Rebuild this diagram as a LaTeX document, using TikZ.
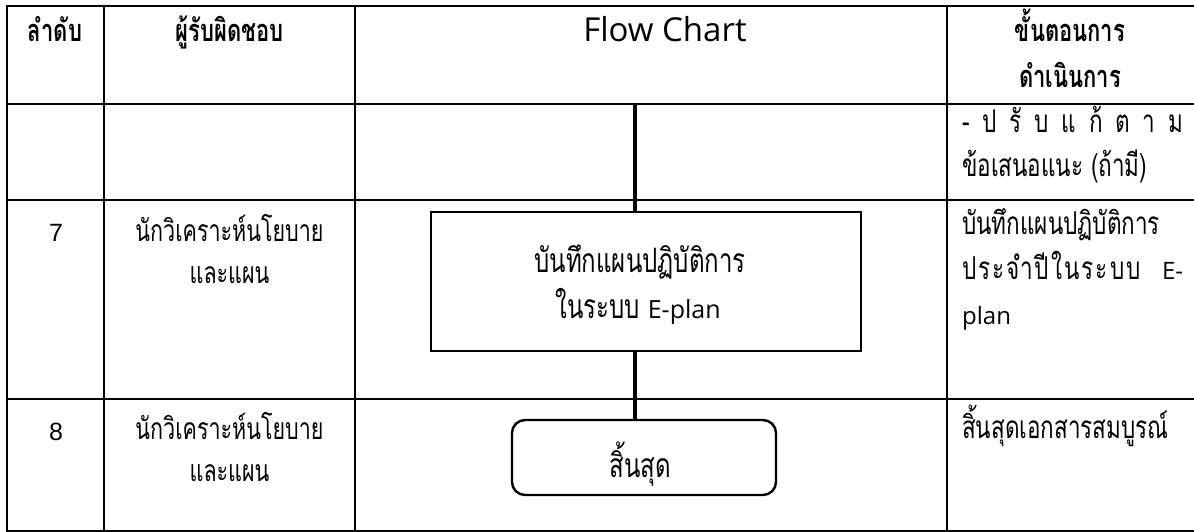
\documentclass[tikz,border=0pt]{standalone}
\usepackage{graphicx}
\usepackage{fontspec}
\newfontfamily\thai[Script=Thai]{Loma}
\newfontfamily\lat{Open Sans}
\newfontfamily\num{Liberation Sans}
\newcommand{\thstretch}[1]{\scalebox{1}[1.4]{#1}}
\newcommand{\fl}{\hskip 0pt plus 1fil\relax}
\newcommand{\sfl}{\hskip 0pt plus 0.15fil\relax}
\begin{document}
\begin{tikzpicture}[x=1pt,y=-1pt,
  grid/.style={line width=2.2pt},
  flow/.style={line width=4.2pt},
  boxline/.style={draw, line width=2.4pt, inner sep=0pt},
  base/.style={inner sep=0pt, anchor=base},
  hd/.style={base, font=\thai\bfseries\fontsize{22}{26}\selectfont},
  nametxt/.style={base, font=\thai\fontsize{21.5}{26}\selectfont},
  desctxt/.style={base, anchor=base west, font=\thai\fontsize{22.5}{27}\selectfont},
  boxtxt/.style={base, font=\thai\fontsize{24}{29}\selectfont},
  lathd/.style={base, font=\lat\fontsize{33}{38}\selectfont},
  numtxt/.style={base, font=\num\fontsize{25}{30}\selectfont}]
\useasboundingbox (0,0) rectangle (1194,532);
% table grid
\draw[grid] (1200,6) -- (7,6) -- (7,531) -- (1200,531);
\draw[grid] (7,104) -- (1200,104);
\draw[grid] (7,200) -- (1200,200);
\draw[grid] (7,399) -- (1200,399);
\draw[grid] (104,6) -- (104,531);
\draw[grid] (355,6) -- (355,531);
\draw[grid] (947,6) -- (947,531);
% headers
\node[hd] (h1) at (55,42) {\thstretch{ลำดับ}};
\node[hd] (h2) at (229.5,42) {\thstretch{ผู้รับผิดชอบ}};
\node[lathd] (h3) at (665,42) {Flow Chart};
\node[hd] (h4a) at (1070,42) {\thstretch{ขั้นตอนการ}};
\node[hd] (h4b) at (1070,88) {\thstretch{ดำเนินการ}};
% row 1 (continuation)
\node[desctxt] (r1a) at (962,133) {\thstretch{\makebox[221pt][s]{-\fl ป\fl รั\fl บ\fl แ\fl ก้\fl ต\fl า\fl ม}}};
\node[desctxt] (r1b) at (962,176) {\thstretch{ข้อเสนอแนะ (ถ้ามี)}};
% row 7
\node[numtxt] (n7) at (56,241) {7};
\node[nametxt] (p7a) at (229.5,241) {\thstretch{นักวิเคราะห์นโยบาย}};
\node[nametxt] (p7b) at (229.5,283) {\thstretch{และแผน}};
\node[desctxt] (d7a) at (962,234) {\thstretch{บันทึกแผนปฏิบัติการ}};
\node[desctxt] (d7b) at (962,279) {\makebox[221pt][s]{\thstretch{ป}\sfl\thstretch{ร}\sfl\thstretch{ะ}\sfl\thstretch{จำ}\sfl\thstretch{ปี}\sfl\thstretch{ใ}\sfl\thstretch{น}\sfl\thstretch{ร}\sfl\thstretch{ะ}\sfl\thstretch{บ}\sfl\thstretch{บ}\ \fl{\lat\fontsize{24}{29}\selectfont E-}}};
\node[desctxt] (d7c) at (962,324) {\lat\fontsize{24}{29}\selectfont plan};
% row 8
\node[numtxt] (n8) at (56,440) {8};
\node[nametxt] (p8a) at (229.5,439) {\thstretch{นักวิเคราะห์นโยบาย}};
\node[nametxt] (p8b) at (229.5,481) {\thstretch{และแผน}};
\node[desctxt] (d8a) at (962,438) {\thstretch{สิ้นสุดเอกสารสมบูรณ์}};
% flow chart
\node[boxline, minimum width=430pt, minimum height=139pt] (box1) at (646,281.5) {};
\node[boxtxt] (b1a) at (640,272) {\thstretch{บันทึกแผนปฏิบัติการ}};
\node[boxtxt] (b1b) at (638,318) {\thstretch{ในระบบ} {\lat\fontsize{25}{30}\selectfont E-plan}};
\node[boxline, rounded corners=13pt, minimum width=264pt, minimum height=75pt] (box2) at (644,457.5) {};
\node[boxtxt] (b2) at (640,477) {\thstretch{สิ้นสุด}};
\coordinate (ftop) at (635,105);
\draw[flow] (ftop) -- (ftop |- box1.north);
\draw[flow] (ftop |- box1.south) -- (ftop |- box2.north);
\end{tikzpicture}
\end{document}
